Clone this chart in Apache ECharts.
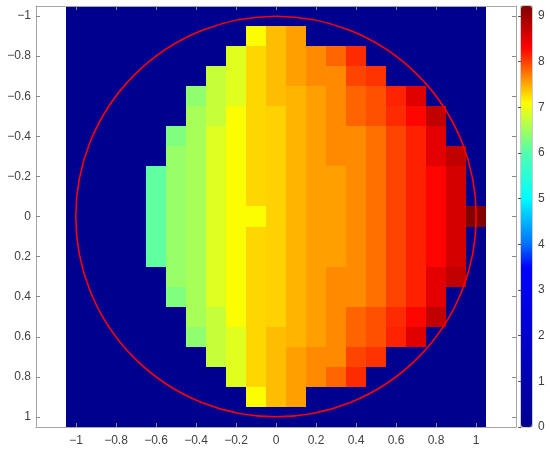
<!DOCTYPE html>
<html>
<head>
<meta charset="utf-8">
<script src="https://cdn.jsdelivr.net/npm/echarts@6/dist/echarts.min.js"></script>
<style>
html, body { margin: 0; padding: 0; background: #fff; }
#main { width: 550px; height: 452px; }
</style>
</head>
<body>
<div id="main"></div>
<script>
// cell centres (step 0.1)
const xs = [-1.0, -0.9, -0.8, -0.7, -0.6, -0.5, -0.4, -0.3, -0.2, -0.1, 0, 0.1, 0.2, 0.3, 0.4, 0.5, 0.6, 0.7, 0.8, 0.9, 1.0];
const ys = [-1.0, -0.9, -0.8, -0.7, -0.6, -0.5, -0.4, -0.3, -0.2, -0.1, 0, 0.1, 0.2, 0.3, 0.4, 0.5, 0.6, 0.7, 0.8, 0.9, 1.0];
const cellSize = 0.1;

// one row per y (top to bottom), one value per x
const rows = [
  [0, 0, 0, 0, 0, 0, 0, 0, 0, 0, 0, 0, 0, 0, 0, 0, 0, 0, 0, 0, 0],
  [0, 0, 0, 0, 0, 0, 0, 0, 0, 7.1, 7.41, 7.55, 0, 0, 0, 0, 0, 0, 0, 0, 0],
  [0, 0, 0, 0, 0, 0, 0, 0, 6.9, 7.29, 7.41, 7.55, 7.65, 7.82, 8.1, 0, 0, 0, 0, 0, 0],
  [0, 0, 0, 0, 0, 0, 0, 6.74, 6.9, 7.29, 7.41, 7.55, 7.65, 7.65, 7.98, 8.06, 0, 0, 0, 0, 0],
  [0, 0, 0, 0, 0, 0, 6.4, 6.74, 6.9, 7.29, 7.41, 7.45, 7.55, 7.65, 7.83, 7.92, 8.14, 8.52, 0, 0, 0],
  [0, 0, 0, 0, 0, 0, 6.55, 6.74, 7.1, 7.29, 7.31, 7.45, 7.55, 7.65, 7.83, 7.92, 8.1, 8.28, 8.75, 0, 0],
  [0, 0, 0, 0, 0, 6.3, 6.55, 6.89, 7.1, 7.29, 7.31, 7.45, 7.55, 7.65, 7.64, 7.77, 7.98, 8.15, 8.5, 0, 0],
  [0, 0, 0, 0, 0, 6.46, 6.55, 6.89, 7.1, 7.29, 7.31, 7.45, 7.55, 7.65, 7.64, 7.77, 7.98, 8.15, 8.5, 8.75, 0],
  [0, 0, 0, 0, 6.1, 6.46, 6.55, 6.89, 7.1, 7.29, 7.31, 7.45, 7.55, 7.55, 7.64, 7.77, 7.98, 8.15, 8.3, 8.61, 0],
  [0, 0, 0, 0, 6.1, 6.46, 6.55, 6.89, 7.1, 7.29, 7.31, 7.45, 7.55, 7.55, 7.64, 7.77, 7.98, 8.15, 8.3, 8.61, 0],
  [0, 0, 0, 0, 6.1, 6.46, 6.55, 6.89, 7.1, 7.1, 7.31, 7.45, 7.55, 7.55, 7.64, 7.77, 7.98, 8.15, 8.3, 8.61, 9.2],
  [0, 0, 0, 0, 6.1, 6.46, 6.55, 6.89, 7.1, 7.29, 7.31, 7.45, 7.55, 7.55, 7.64, 7.77, 7.98, 8.15, 8.3, 8.61, 0],
  [0, 0, 0, 0, 6.1, 6.46, 6.55, 6.89, 7.1, 7.29, 7.31, 7.45, 7.55, 7.55, 7.64, 7.77, 7.98, 8.15, 8.3, 8.61, 0],
  [0, 0, 0, 0, 0, 6.46, 6.55, 6.89, 7.1, 7.29, 7.31, 7.45, 7.55, 7.65, 7.64, 7.77, 7.98, 8.15, 8.5, 8.75, 0],
  [0, 0, 0, 0, 0, 6.3, 6.55, 6.89, 7.1, 7.29, 7.31, 7.45, 7.55, 7.65, 7.64, 7.77, 7.98, 8.15, 8.5, 0, 0],
  [0, 0, 0, 0, 0, 0, 6.55, 6.74, 7.1, 7.29, 7.31, 7.45, 7.55, 7.65, 7.83, 7.92, 8.1, 8.28, 8.75, 0, 0],
  [0, 0, 0, 0, 0, 0, 6.4, 6.74, 6.9, 7.29, 7.41, 7.45, 7.55, 7.65, 7.83, 7.92, 8.14, 8.52, 0, 0, 0],
  [0, 0, 0, 0, 0, 0, 0, 6.74, 6.9, 7.29, 7.41, 7.55, 7.65, 7.65, 7.98, 8.06, 0, 0, 0, 0, 0],
  [0, 0, 0, 0, 0, 0, 0, 0, 6.9, 7.29, 7.41, 7.55, 7.65, 7.82, 8.1, 0, 0, 0, 0, 0, 0],
  [0, 0, 0, 0, 0, 0, 0, 0, 0, 7.1, 7.41, 7.55, 0, 0, 0, 0, 0, 0, 0, 0, 0],
  [0, 0, 0, 0, 0, 0, 0, 0, 0, 0, 0, 0, 0, 0, 0, 0, 0, 0, 0, 0, 0]
];

const xTicks = [-1, -0.8, -0.6, -0.4, -0.2, 0, 0.2, 0.4, 0.6, 0.8, 1];
const yTicks = [-1, -0.8, -0.6, -0.4, -0.2, 0, 0.2, 0.4, 0.6, 0.8, 1];
const cbarTicks = [0, 1, 2, 3, 4, 5, 6, 7, 8, 9];
const cbarMax = 9.22;

// unit circle: centre x, centre y, radius
const circle = [[0, 0, 1]];

// colour map stops (value -> colour), jet-like but stretched to the top
const cmapValues = [0, 3.5, 4.0, 4.7, 5.0, 6.0, 7.1, 8.3, 9.22];
const cmapColors = ['#00008f', '#0000ff', '#0070ff', '#00d0ff', '#00ffff', '#50ffaf', '#ffff00', '#ff0000', '#800000'];

function hexToRgb(h) {
    return [parseInt(h.slice(1, 3), 16), parseInt(h.slice(3, 5), 16), parseInt(h.slice(5, 7), 16)];
}
function cmapAt(v) {
    let i = 0;
    while (i < cmapValues.length - 2 && v > cmapValues[i + 1]) i++;
    const t = Math.min(1, Math.max(0, (v - cmapValues[i]) / (cmapValues[i + 1] - cmapValues[i])));
    const a = hexToRgb(cmapColors[i]), b = hexToRgb(cmapColors[i + 1]);
    const c = a.map((x, k) => Math.round(x + (b[k] - x) * t));
    return 'rgb(' + c.join(',') + ')';
}
// sample the map evenly so visualMap (which spaces colours evenly) follows it
const bandColors = [];
for (let k = 0; k <= 184; k++) bandColors.push(cmapAt(cbarMax * k / 184));

const cells = [];
ys.forEach((y, j) => {
    xs.forEach((x, i) => {
        cells.push([x, y, rows[j][i]]);
    });
});

const fmt = v => {
    const r = Math.round(v * 10) / 10;
    return r === 0 ? '0' : String(r).replace('-', '\u2212');
};

const labelStyle = { color: '#404040', fontSize: 12, fontFamily: 'Liberation Sans, Arial, sans-serif' };
const boxLine = { show: true, onZero: false, lineStyle: { color: '#a6a6a6', width: 1 } };
const tickStyle = { color: '#8a8a8a', width: 1 };

const myChart = echarts.init(document.getElementById('main'));

myChart.setOption({
    backgroundColor: '#fff',
    animation: false,
    grid: [
        { left: 36, top: 6, width: 480, height: 421 },
        { left: 521, top: 6, width: 11, height: 421, show: true, borderColor: '#999', borderWidth: 1, backgroundColor: 'transparent' }
    ],
    xAxis: [
        {
            type: 'value', gridIndex: 0, min: -1.2, max: 1.2, position: 'bottom', z: 10,
            axisLine: boxLine,
            axisTick: { show: true, inside: true, length: 4, customValues: xTicks, lineStyle: tickStyle },
            axisLabel: Object.assign({ customValues: xTicks, formatter: fmt, margin: 8 }, labelStyle),
            splitLine: { show: false }
        },
        {
            type: 'value', gridIndex: 0, min: -1.2, max: 1.2, position: 'top', z: 10,
            axisLine: boxLine,
            axisTick: { show: true, inside: true, length: 4, customValues: xTicks, lineStyle: tickStyle },
            axisLabel: { show: false },
            splitLine: { show: false }
        },
        {
            type: 'value', gridIndex: 1, min: 0, max: 1, show: false
        }
    ],
    yAxis: [
        {
            type: 'value', gridIndex: 0, min: -1.05, max: 1.05, inverse: true, position: 'left', z: 10,
            axisLine: boxLine,
            axisTick: { show: true, inside: true, length: 4, customValues: yTicks, lineStyle: tickStyle },
            axisLabel: Object.assign({ customValues: yTicks, formatter: fmt, margin: 5 }, labelStyle),
            splitLine: { show: false }
        },
        {
            type: 'value', gridIndex: 0, min: -1.05, max: 1.05, inverse: true, position: 'right', z: 10,
            axisLine: boxLine,
            axisTick: { show: true, inside: true, length: 4, customValues: yTicks, lineStyle: tickStyle },
            axisLabel: { show: false },
            splitLine: { show: false }
        },
        {
            type: 'value', gridIndex: 1, min: 0, max: cbarMax, position: 'right', z: 10,
            axisLine: { show: false },
            axisTick: { show: true, inside: true, length: 3, customValues: cbarTicks, lineStyle: { color: '#555' } },
            axisLabel: Object.assign({ customValues: cbarTicks, margin: 6 }, labelStyle),
            splitLine: { show: false }
        }
    ],
    visualMap: {
        type: 'continuous',
        seriesIndex: 0,
        dimension: 2,
        min: 0,
        max: cbarMax,
        calculable: false,
        hoverLink: false,
        left: 521,
        top: 6,
        itemWidth: 11,
        itemHeight: 421,
        padding: 0,
        text: null,
        inRange: { color: bandColors }
    },
    series: [
        {
            type: 'custom',
            coordinateSystem: 'cartesian2d',
            xAxisIndex: 0,
            yAxisIndex: 0,
            silent: true,
            data: cells,
            renderItem: function (params, api) {
                const c = api.coord([api.value(0), api.value(1)]);
                const s = api.size([cellSize, cellSize]);
                // snap edges to whole pixels so neighbouring cells meet without seams
                const x0 = Math.round(c[0] - s[0] / 2), x1 = Math.round(c[0] + s[0] / 2);
                const y0 = Math.round(c[1] - s[1] / 2), y1 = Math.round(c[1] + s[1] / 2);
                return {
                    type: 'rect',
                    shape: { x: x0, y: y0, width: x1 - x0, height: y1 - y0 },
                    style: { fill: api.visual('color') }
                };
            }
        },
        {
            type: 'custom',
            coordinateSystem: 'cartesian2d',
            xAxisIndex: 0,
            yAxisIndex: 0,
            silent: true,
            z: 5,
            data: circle,
            renderItem: function (params, api) {
                const c = api.coord([api.value(0), api.value(1)]);
                const r = api.size([api.value(2), api.value(2)]);
                return {
                    type: 'circle',
                    shape: { cx: c[0], cy: c[1], r: (r[0] + r[1]) / 2 },
                    style: { fill: 'none', stroke: '#ff0000', lineWidth: 1.6 }
                };
            }
        }
    ]
});
</script>
</body>
</html>
